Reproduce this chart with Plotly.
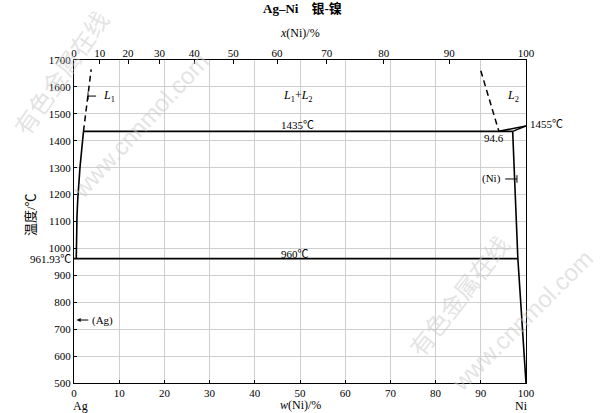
import plotly.graph_objects as go

# ---- data (w(Ni) %, temperature °C) ----
eutectic_w = [0, 98.2]
eutectic_t = [961.93, 961.93]
monotectic_w = [2.1, 97.05]
monotectic_t = [1435, 1435]
l1_liquidus_w = [0.5, 0.5, 0.66, 0.82, 1.04, 1.33, 1.7, 2.1]
l1_liquidus_t = [961.93, 994, 1117, 1180, 1243, 1302, 1366, 1435]
l1_dashed_w = [2.1, 3.8]
l1_dashed_t = [1435, 1665]
l2_dashed_w = [90.0, 94.0]
l2_dashed_t = [1660, 1435]
l2_liquidus_w = [94.0, 96.0, 98.0, 100.0]
l2_liquidus_t = [1435, 1441, 1448, 1455]
ni_solidus_w = [97.05, 100.0]
ni_solidus_t = [1435, 1455]
ni_solvus_w = [97.05, 98.1, 98.2, 100.0]
ni_solvus_t = [1435, 1004, 961.93, 500]

top_ticks_at = [0, 10, 20, 30, 40, 50, 60, 70, 80, 90, 100]
M_AG, M_NI = 107.87, 58.69


def at_to_wt(a):
    return 100.0 * a * M_NI / (a * M_NI + (100 - a) * M_AG)


top_tickvals = [at_to_wt(a) for a in top_ticks_at]

SERIF = "Liberation Serif, Noto Sans CJK SC, serif"
BLACK = "#000000"

fig = go.Figure()


def add_line(xs, ys, dash="solid", width=1.8):
    fig.add_trace(go.Scatter(x=xs, y=ys, mode="lines", line=dict(color=BLACK, width=width, dash=dash),
                             hoverinfo="skip", showlegend=False))


add_line(eutectic_w, eutectic_t)
add_line(monotectic_w, monotectic_t)
add_line(l1_liquidus_w, l1_liquidus_t, width=1.6)
add_line(l1_dashed_w, l1_dashed_t, dash="6px,4px", width=1.5)
add_line(l2_dashed_w, l2_dashed_t, dash="6px,4px", width=1.5)
add_line(l2_liquidus_w, l2_liquidus_t, width=1.6)
add_line(ni_solidus_w, ni_solidus_t, width=1.4)
add_line(ni_solvus_w, ni_solvus_t, width=1.6)

# leader lines for labels
add_line([3.1, 4.9], [1566, 1566], width=1)
add_line([3.1, 3.1], [1552, 1580], width=1)
add_line([95.4, 98.0], [1258, 1258], width=1)
add_line([98.0, 98.0], [1244, 1272], width=1)

# invisible trace to enable top axis
fig.add_trace(go.Scatter(x=[0, 100], y=[500, 500], xaxis="x2", mode="lines",
                         line=dict(width=0), hoverinfo="skip", showlegend=False))

fig.update_layout(
    width=600, height=413,
    margin=dict(l=74, r=74, t=60, b=30),
    paper_bgcolor="white", plot_bgcolor="white",
    font=dict(family=SERIF, size=11, color=BLACK),
    xaxis=dict(range=[0, 100], dtick=10, tick0=0, showgrid=True, gridcolor="#cfcfcf", gridwidth=1,
               showline=True, linecolor=BLACK, linewidth=1.2, mirror=True,
               ticks="inside", ticklen=3, tickcolor=BLACK, zeroline=False,
               tickfont=dict(family=SERIF, size=11)),
    xaxis2=dict(range=[0, 100], overlaying="x", side="top", tickmode="array",
                tickvals=top_tickvals, ticktext=[str(a) for a in top_ticks_at],
                showgrid=False, ticks="inside", ticklen=4, tickcolor=BLACK, zeroline=False,
                showline=False, tickfont=dict(family=SERIF, size=11)),
    yaxis=dict(range=[500, 1700], dtick=100, tick0=500, showgrid=True, gridcolor="#cfcfcf", gridwidth=1,
               showline=True, linecolor=BLACK, linewidth=1.2, mirror=True,
               ticks="inside", ticklen=3, tickcolor=BLACK, zeroline=False,
               tickfont=dict(family=SERIF, size=11)),
)

ann = []


def txt(x, y, text, size=11, xanchor="center", yanchor="middle", xref="x", yref="y", **kw):
    ann.append(dict(x=x, y=y, text=text, xref=xref, yref=yref, showarrow=False,
                    xanchor=xanchor, yanchor=yanchor, font=dict(family=SERIF, size=size, color=BLACK), **kw))


def pxy(px, py):
    return (px - 74) / 452, (383 - py) / 323


# watermark (faint)
WM = "rgba(200,200,200,0.5)"
for (px, py, t, ang, fam) in [
    (60, 72, "有色金属在线", -55, "Noto Sans CJK SC"),
    (140, 125, "www.cnnmol.com", -47, "Liberation Sans"),
    (458, 295, "有色金属在线", -52, "Noto Sans CJK SC"),
    (522, 320, "www.cnnmol.com", -45, "Liberation Sans"),
]:
    wx, wy = pxy(px, py)
    ann.append(dict(x=wx, y=wy, xref="paper", yref="paper", text=t, showarrow=False,
                    textangle=ang, font=dict(family=fam, size=24, color=WM), xanchor="center", yanchor="middle"))


def ptxt(px, py, text, size=11, xanchor="center", **kw):
    x, y = pxy(px, py)
    txt(x, y, text, size=size, xanchor=xanchor, xref="paper", yref="paper", **kw)


# title and axis titles
ptxt(302, 9, "<b>Ag–Ni</b>    <b>银-镍</b>", size=13)
ptxt(300, 33, "<i>x</i>(Ni)/%", size=12)
ptxt(300, 405, "<i>w</i>(Ni)/%", size=12)
ptxt(30, 215, "温度/℃", size=13, textangle=-90)
ptxt(80, 406, "Ag", size=12)
ptxt(521, 406, "Ni", size=12)
ptxt(73, 259, "961.93℃", xanchor="right")
ptxt(528, 124, "1455℃", xanchor="left")

# in-plot labels
txt(6.0, 1566, "<i>L</i><sub>1</sub>", size=12, xanchor="left")
txt(49.5, 1566, "<i>L</i><sub>1</sub>+<i>L</i><sub>2</sub>", size=12)
txt(49.5, 1460, "1435℃", size=11)
txt(49.0, 979, "960℃", size=11)
txt(95.4, 1566, "<i>L</i><sub>2</sub>", size=12, xanchor="left")
txt(93.0, 1412, "94.6", size=11)
txt(94.8, 1258, "(Ni)", size=11, xanchor="right")
txt(3.6, 734, "(Ag)", size=11, xanchor="left")
ann.append(dict(x=0.6, y=734, ax=3.5, ay=734, xref="x", yref="y", axref="x", ayref="y",
                showarrow=True, arrowhead=2, arrowsize=0.8, arrowwidth=1, arrowcolor=BLACK, text=""))

fig.update_layout(annotations=ann)
fig.write_html("out.html", config={"displayModeBar": False},
               post_script="document.body.style.margin='0';document.body.style.padding='0';")
